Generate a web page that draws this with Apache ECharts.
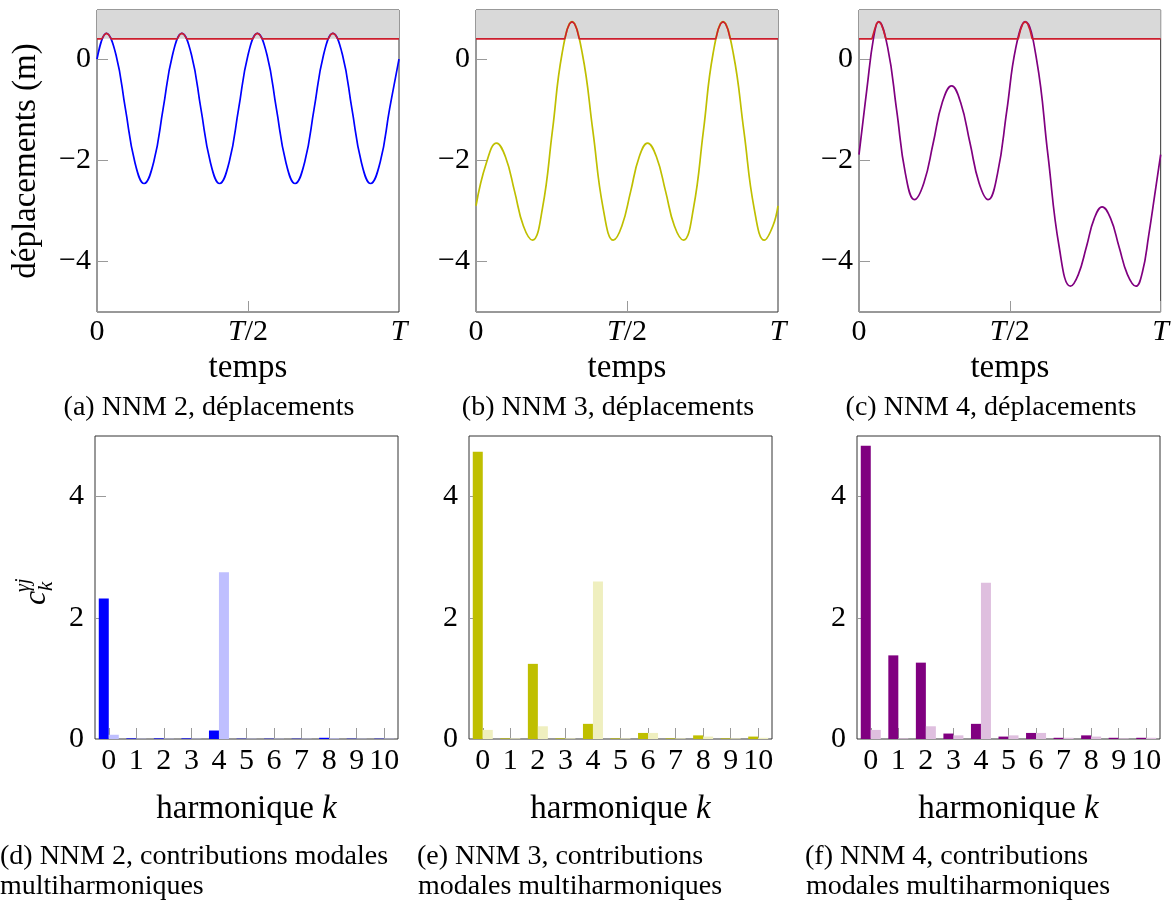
<!DOCTYPE html>
<html><head><meta charset="utf-8">
<script src="https://cdn.jsdelivr.net/npm/echarts@6/dist/echarts.min.js"></script>
<style>html,body{margin:0;padding:0;background:#fff}#c{width:1172px;height:901px}</style>
</head><body><div id="c"></div>
<script>
// ---------- data ----------
const timeTickLabels = {0: '0', 0.5: '{i|T}/2', 1: '{i|T}'};
const dispTicks = [-4, -2, 0];
const contribTicks = [0, 2, 4];
const threshold = 0.4;
const dispMin = -5;
const dispMax = 0.97;
const harmonics = ['0','1','2','3','4','5','6','7','8','9','10'];

// (a) NNM 2 displacement
const tA = [0, 0.031, 0.063, 0.094, 0.125, 0.156, 0.188, 0.219, 0.250, 0.281, 0.313, 0.344, 0.375, 0.406, 0.438, 0.469, 0.500, 0.531, 0.563, 0.594, 0.625, 0.656, 0.688, 0.719, 0.750, 0.781, 0.813, 0.844, 0.875, 0.906, 0.938, 0.969, 1.0];
const yA = [0.0, 0.51, 0.08, -0.98, -2.03, -2.46, -2.03, -0.98, 0.08, 0.51, 0.08, -0.98, -2.03, -2.46, -2.03, -0.98, 0.08, 0.51, 0.08, -0.98, -2.03, -2.46, -2.03, -0.98, 0.08, 0.51, 0.08, -0.98, -2.03, -2.46, -2.03, -0.98, 0.0];
const tRedA = [0, 0.016, 0.024, 0.031, 0.039, 0.047, 0.266, 0.273, 0.281, 0.289, 0.297, 0.516, 0.523, 0.531, 0.539, 0.547, 0.766, 0.773, 0.781, 0.789, 0.797, 1];
const yRedA = [0.4, 0.4, 0.48, 0.51, 0.48, 0.4, 0.4, 0.48, 0.51, 0.48, 0.4, 0.4, 0.48, 0.51, 0.48, 0.4, 0.4, 0.48, 0.51, 0.48, 0.4, 0.4];

// (b) NNM 3 displacement
const tB = [0, 0.034, 0.068, 0.098, 0.128, 0.157, 0.187, 0.220, 0.253, 0.285, 0.318, 0.352, 0.387, 0.421, 0.455, 0.483, 0.512, 0.540, 0.568, 0.598, 0.628, 0.657, 0.687, 0.720, 0.753, 0.785, 0.818, 0.852, 0.887, 0.921, 0.955, 0.983, 1.0];
const yB = [-2.90, -2.06, -1.66, -1.94, -2.62, -3.30, -3.58, -2.95, -1.42, 0.11, 0.74, 0.11, -1.42, -2.95, -3.58, -3.30, -2.62, -1.94, -1.66, -1.94, -2.62, -3.30, -3.58, -2.95, -1.42, 0.11, 0.74, 0.11, -1.42, -2.95, -3.58, -3.30, -2.90];
const tRedB = [0, 0.294, 0.302, 0.310, 0.318, 0.326, 0.334, 0.342, 0.794, 0.802, 0.810, 0.818, 0.826, 0.834, 0.842, 1];
const yRedB = [0.4, 0.4, 0.59, 0.70, 0.74, 0.70, 0.59, 0.4, 0.4, 0.59, 0.70, 0.74, 0.70, 0.59, 0.4, 0.4];

// (c) NNM 4 displacement
const tC = [0, 0.026, 0.049, 0.065, 0.095, 0.125, 0.154, 0.184, 0.215, 0.246, 0.276, 0.307, 0.337, 0.368, 0.398, 0.428, 0.459, 0.490, 0.520, 0.551, 0.589, 0.626, 0.664, 0.701, 0.727, 0.754, 0.780, 0.806, 0.834, 0.862, 0.890, 0.918, 0.940, 0.960, 0.980, 1.0];
const yC = [-1.89, -0.60, 0.45, 0.74, 0.23, -1.02, -2.27, -2.78, -2.45, -1.66, -0.86, -0.53, -0.86, -1.66, -2.45, -2.78, -2.27, -1.02, 0.23, 0.74, -0.02, -1.88, -3.73, -4.49, -4.26, -3.71, -3.15, -2.92, -3.15, -3.71, -4.26, -4.49, -4.20, -3.50, -2.70, -1.89];
const tRedC = [0, 0.043, 0.051, 0.058, 0.065, 0.073, 0.081, 0.089, 0.528, 0.535, 0.543, 0.551, 0.559, 0.567, 0.574, 1];
const yRedC = [0.4, 0.4, 0.57, 0.70, 0.74, 0.70, 0.57, 0.4, 0.4, 0.57, 0.70, 0.74, 0.70, 0.57, 0.4, 0.4];

// (d)(e)(f) multiharmonic modal contributions
const darkD  = [2.32, 0.01, 0.01, 0.01, 0.14, 0.005, 0.005, 0.005, 0.02, 0.005, 0.005];
const lightD = [0.07, 0.005, 0.005, 0.005, 2.75, 0.005, 0.005, 0.005, 0.01, 0.005, 0.005];
const darkE  = [4.74, 0.01, 1.24, 0.01, 0.25, 0.01, 0.10, 0.01, 0.06, 0.01, 0.04];
const lightE = [0.15, 0.01, 0.21, 0.01, 2.60, 0.01, 0.10, 0.01, 0.04, 0.01, 0.02];
const darkF  = [4.84, 1.38, 1.26, 0.09, 0.25, 0.04, 0.10, 0.02, 0.06, 0.02, 0.02];
const lightF = [0.15, 0.01, 0.21, 0.06, 2.58, 0.06, 0.10, 0.02, 0.04, 0.01, 0.02];

const captions = {
  a: '(a) NNM 2, déplacements',
  b: '(b) NNM 3, déplacements',
  c: '(c) NNM 4, déplacements',
  d: ['(d) NNM 2, contributions modales', 'multiharmoniques'],
  e: ['(e) NNM 3, contributions', 'modales multiharmoniques'],
  f: ['(f) NNM 4, contributions', 'modales multiharmoniques']
};

// ---------- styles / layout ----------
const FF = '"Liberation Serif", "DejaVu Serif", serif';
const tickStyle = {show: true, inside: true, length: 11, lineStyle: {color: '#9a9a9a', width: 1}};
const noLine = {show: false, onZero: false};
const italic = {fontStyle: 'italic', fontFamily: FF, fontSize: 30, color: '#000'};
const pairs = (t, v) => t.map((x, i) => [x, v[i]]);
const minus = v => String(v).replace('-', '\u2212');

const topGrids = [
  {left: 97, top: 10, width: 302, height: 302},
  {left: 476, top: 10, width: 302, height: 302},
  {left: 859, top: 10, width: 302, height: 302}
];
const botGrids = [
  {left: 95, top: 436, width: 303, height: 303},
  {left: 469, top: 436, width: 303, height: 303},
  {left: 857, top: 436, width: 303, height: 303}
];
const grid = topGrids.concat(botGrids).map(g => Object.assign({show: true, borderColor: '#333', borderWidth: 1, backgroundColor: 'transparent'}, g));

const xAxis = [], yAxis = [], series = [];
const curves = [
  {t: tA, y: yA, tr: tRedA, yr: yRedA, color: '#0000ff'},
  {t: tB, y: yB, tr: tRedB, yr: yRedB, color: '#bfbf00'},
  {t: tC, y: yC, tr: tRedC, yr: yRedC, color: '#800080'}
];
curves.forEach((c, i) => {
  xAxis.push({
    gridIndex: i, type: 'value', min: 0, max: 1, interval: 0.5, position: 'bottom',
    axisLine: noLine, splitLine: {show: false}, axisTick: tickStyle,
    axisLabel: {fontFamily: FF, fontSize: 30, color: '#000', margin: 5,
      formatter: v => timeTickLabels[v], rich: {i: italic}},
    name: 'temps', nameLocation: 'middle', nameGap: 40,
    nameTextStyle: {fontFamily: FF, fontSize: 33, color: '#000'}
  });
  const ya = {
    gridIndex: i, type: 'value', min: dispMin, max: dispMax, position: 'left',
    axisLine: noLine, splitLine: {show: false},
    axisTick: Object.assign({customValues: dispTicks}, tickStyle),
    axisLabel: {customValues: dispTicks, formatter: minus, fontFamily: FF, fontSize: 30, color: '#000', margin: 6}
  };
  if (i === 0) {
    Object.assign(ya, {name: 'déplacements (m)', nameLocation: 'middle', nameRotate: 90, nameGap: 54,
      nameTextStyle: {fontFamily: FF, fontSize: 33, color: '#000'}});
  }
  yAxis.push(ya);
  series.push({
    type: 'line', xAxisIndex: i, yAxisIndex: i, data: pairs(c.t, c.y), smooth: 0.45,
    symbol: 'none', lineStyle: {color: c.color, width: 1.7}, z: 3,
    markArea: {silent: true, itemStyle: {color: '#d9d9d9'}, label: {show: false},
      data: [[{yAxis: threshold}, {yAxis: dispMax}]]}
  });
  series.push({
    type: 'line', xAxisIndex: i, yAxisIndex: i, data: pairs(c.tr, c.yr),
    symbol: 'none', lineStyle: {color: '#cc1f2e', width: 1.6}, z: 4
  });
});

const bars = [
  {dark: darkD, light: lightD, c1: '#0000ff', c2: '#bfbfff'},
  {dark: darkE, light: lightE, c1: '#bfbf00', c2: '#efefbf'},
  {dark: darkF, light: lightF, c1: '#800080', c2: '#dfbfdf'}
];
bars.forEach((b, j) => {
  const gi = 3 + j;
  xAxis.push({
    gridIndex: gi, type: 'category', data: harmonics, boundaryGap: true, position: 'bottom',
    axisLine: noLine, splitLine: {show: false},
    axisTick: Object.assign({alignWithLabel: true, interval: 0}, tickStyle),
    axisLabel: {interval: 0, fontFamily: FF, fontSize: 30, color: '#000', margin: 7},
    name: 'harmonique {i|k}', nameLocation: 'middle', nameGap: 54,
    nameTextStyle: {fontFamily: FF, fontSize: 33, color: '#000', rich: {i: Object.assign({}, italic, {fontSize: 33})}}
  });
  yAxis.push({
    gridIndex: gi, type: 'value', min: 0, max: 5, position: 'left',
    axisLine: noLine, splitLine: {show: false},
    axisTick: Object.assign({customValues: contribTicks}, tickStyle),
    axisLabel: {customValues: contribTicks, fontFamily: FF, fontSize: 30, color: '#000', margin: 11}
  });
  series.push({type: 'bar', xAxisIndex: gi, yAxisIndex: gi, data: b.dark, barWidth: 10, barGap: '0%',
    itemStyle: {color: b.c1}, z: 3});
  series.push({type: 'bar', xAxisIndex: gi, yAxisIndex: gi, data: b.light, barWidth: 10, barGap: '0%',
    itemStyle: {color: b.c2}, z: 3});
});

const capStyle = (txt, align) => ({fontFamily: FF, fontSize: 28, fill: '#000', text: txt, textAlign: align, textVerticalAlign: 'middle'});
const graphic = [
  {type: 'text', x: 209, y: 408, style: capStyle(captions.a, 'center')},
  {type: 'text', x: 608, y: 408, style: capStyle(captions.b, 'center')},
  {type: 'text', x: 991, y: 408, style: capStyle(captions.c, 'center')},
  {type: 'text', x: 0, y: 857, style: capStyle(captions.d[0], 'left')},
  {type: 'text', x: 0, y: 887, style: capStyle(captions.d[1], 'left')},
  {type: 'text', x: 417, y: 857, style: capStyle(captions.e[0], 'left')},
  {type: 'text', x: 418, y: 887, style: capStyle(captions.e[1], 'left')},
  {type: 'text', x: 805, y: 857, style: capStyle(captions.f[0], 'left')},
  {type: 'text', x: 806, y: 887, style: capStyle(captions.f[1], 'left')},
  {type: 'group', x: 37, y: 598, rotation: Math.PI / 2, children: [
    {type: 'text', x: 0, y: 0, style: {text: 'c', fontFamily: FF, fontStyle: 'italic', fontSize: 32, fill: '#000', textAlign: 'center', textVerticalAlign: 'middle'}},
    {type: 'text', x: 7, y: 9, style: {text: 'k', fontFamily: FF, fontStyle: 'italic', fontSize: 21, fill: '#000', textAlign: 'left', textVerticalAlign: 'middle'}},
    {type: 'text', x: 6, y: -13, style: {text: 'γj', fontFamily: FF, fontStyle: 'italic', fontSize: 20, fill: '#000', textAlign: 'left', textVerticalAlign: 'middle'}}
  ]}
];

const chart = echarts.init(document.getElementById('c'), null, {renderer: 'canvas'});
chart.setOption({animation: false, backgroundColor: '#fff', grid, xAxis, yAxis, series, graphic});
</script></body></html>
